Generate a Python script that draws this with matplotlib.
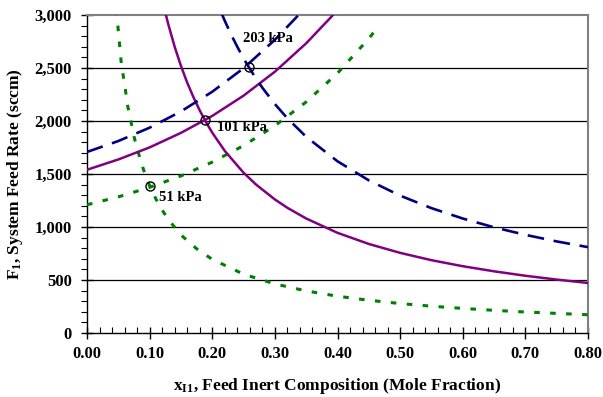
import matplotlib
matplotlib.use("Agg")
import matplotlib.pyplot as plt
from matplotlib.ticker import MultipleLocator, FuncFormatter

plt.rcParams['font.family'] = ['Liberation Serif', 'DejaVu Serif']
plt.rcParams['font.weight'] = 'bold'
plt.rcParams['mathtext.fontset'] = 'custom'
plt.rcParams['mathtext.rm'] = 'Liberation Serif:bold'
plt.rcParams['mathtext.it'] = 'Liberation Serif:bold'
plt.rcParams['mathtext.bf'] = 'Liberation Serif:bold'
plt.rcParams['lines.scale_dashes'] = False

# ---- data ----
# rising curves (feed rate vs inert composition)
x_rise_51 = [0.00, 0.05, 0.10, 0.15, 0.20, 0.25, 0.30, 0.35, 0.40, 0.45, 0.467]
y_rise_51 = [1210, 1284, 1374, 1482, 1612, 1768, 1955, 2180, 2451, 2778, 2904]
x_rise_101 = [0.00, 0.05, 0.10, 0.15, 0.20, 0.25, 0.30, 0.35, 0.39, 0.40]
y_rise_101 = [1540, 1637, 1751, 1888, 2048, 2239, 2465, 2733, 2982, 3051]
x_rise_203 = [0.00, 0.05, 0.10, 0.15, 0.20, 0.25, 0.30, 0.337]
y_rise_203 = [1708, 1811, 1937, 2090, 2276, 2498, 2766, 2995]

# falling curves
x_fall_51 = [0.047, 0.05, 0.055, 0.06, 0.065, 0.07, 0.075, 0.08, 0.09, 0.10, 0.11, 0.12, 0.13,
             0.15, 0.175, 0.20, 0.25, 0.30, 0.35, 0.40, 0.45, 0.50, 0.55, 0.60, 0.65, 0.70, 0.75, 0.80]
y_fall_51 = [3050, 2850, 2530, 2350, 2140, 2000, 1855, 1740, 1545, 1390, 1265, 1160, 1070,
             925, 795, 695, 555, 463, 397, 347, 309, 278, 253, 232, 214, 198, 185, 172]
x_fall_101 = [0.125, 0.13, 0.14, 0.15, 0.16, 0.17, 0.18, 0.19, 0.20, 0.22, 0.25, 0.27, 0.30,
              0.32, 0.35, 0.40, 0.45, 0.50, 0.55, 0.60, 0.65, 0.70, 0.75, 0.80]
y_fall_101 = [3024, 2908, 2700, 2520, 2362, 2224, 2100, 1990, 1890, 1718, 1512, 1400, 1260,
              1181, 1080, 945, 840, 756, 687, 630, 582, 540, 504, 472]
x_fall_203 = [0.215, 0.22, 0.23, 0.24, 0.25, 0.26, 0.27, 0.28, 0.30, 0.32, 0.35, 0.40, 0.45,
              0.50, 0.55, 0.60, 0.65, 0.70, 0.75, 0.80]
y_fall_203 = [3014, 2945, 2817, 2700, 2590, 2492, 2400, 2314, 2160, 2025, 1851, 1620, 1440,
              1296, 1178, 1080, 997, 926, 864, 810]

# operating points (intersections) and labels
op_x = [0.100, 0.1885, 0.259]
op_y = [1387, 2009, 2512]
label_text = ["51 kPa", "101 kPa", "203 kPa"]
label_x = [0.115, 0.2077, 0.249]
label_y = [1283, 1934, 2783]

x_ticks = [0.0, 0.1, 0.2, 0.3, 0.4, 0.5, 0.6, 0.7, 0.8]
y_ticks = [0, 500, 1000, 1500, 2000, 2500, 3000]

# ---- figure ----
fig = plt.figure(figsize=(6.03, 3.97), dpi=100)
ax = fig.add_axes([87/603, (397-333)/397, (588-87)/603, (333-15)/397])

green = '#008000'
purple = '#800080'
navy = '#000080'

for yv in y_ticks[1:-1]:
    ax.axhline(yv, color='black', lw=0.9, zorder=1)

ax.plot(x_rise_51, y_rise_51, color=green, lw=2.2, dashes=(4, 7.5), zorder=3)
ax.plot(x_fall_51, y_fall_51, color=green, lw=2.2, dashes=(4, 7.5), zorder=3)
ax.plot(x_rise_101, y_rise_101, color=purple, lw=1.8, zorder=3)
ax.plot(x_fall_101, y_fall_101, color=purple, lw=1.8, zorder=3)
ax.plot(x_rise_203, y_rise_203, color=navy, lw=1.9, dashes=(12, 7), zorder=3)
ax.plot(x_fall_203, y_fall_203, color=navy, lw=1.9, dashes=(12, 7), zorder=3)

ax.plot(op_x, op_y, linestyle='none', marker='o', markersize=6.5,
        markerfacecolor='none', markeredgecolor='black', markeredgewidth=1.0, zorder=4)

for t, lx, ly in zip(label_text, label_x, label_y):
    ax.text(lx, ly, t, fontsize=10.5, fontweight='bold', ha='left', va='center', zorder=5)

ax.set_xlim(0, 0.8)
ax.set_ylim(0, 3000)
ax.set_xticks(x_ticks)
ax.set_yticks(y_ticks)
ax.xaxis.set_minor_locator(MultipleLocator(0.02))
ax.yaxis.set_minor_locator(MultipleLocator(100))
ax.xaxis.set_major_formatter(FuncFormatter(lambda v, p: f"{v:.2f}"))
ax.yaxis.set_major_formatter(FuncFormatter(lambda v, p: f"{int(round(v)):,}"))

ax.tick_params(axis='both', which='major', direction='inout', length=8, width=1,
               labelsize=12, color='black')
ax.tick_params(axis='x', which='major', pad=5)
ax.tick_params(axis='y', which='major', pad=7)
ax.tick_params(axis='x', which='minor', direction='in', length=4, width=0.8)
ax.tick_params(axis='y', which='minor', direction='out', length=4, width=0.8)
for lab in ax.get_xticklabels() + ax.get_yticklabels():
    lab.set_fontweight('bold')

ax.spines['left'].set_color('black')
ax.spines['bottom'].set_color('black')
ax.spines['left'].set_linewidth(1.0)
ax.spines['bottom'].set_linewidth(1.0)
for s in ['top', 'right']:
    ax.spines[s].set_color('#808080')
    ax.spines[s].set_linewidth(1.5)

ax.set_ylabel(r"F$_{1}$, System Feed Rate (sccm)", fontsize=12.5, fontweight='bold')
ax.set_xlabel(r"x$_{\mathrm{I1}}$, Feed Inert Composition (Mole Fraction)", fontsize=12.5, fontweight='bold')
ax.yaxis.set_label_coords(-0.124, 0.5)
ax.xaxis.set_label_coords(0.5, -0.135)

fig.savefig("out.png", dpi=100)
